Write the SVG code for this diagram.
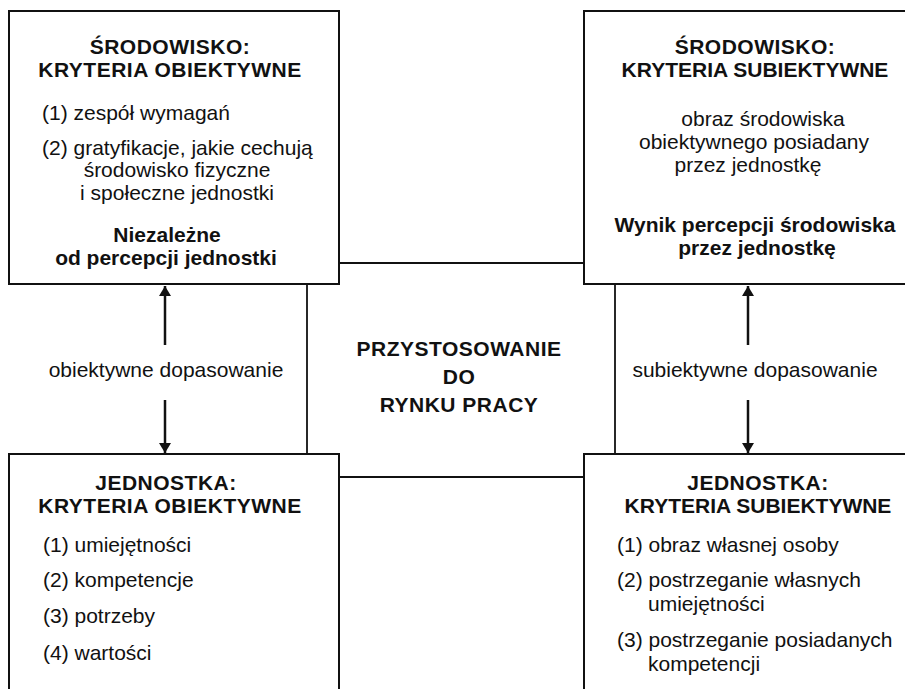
<svg xmlns="http://www.w3.org/2000/svg" width="905" height="689" viewBox="0 0 905 689">
  <defs>
    <style>
      .box { fill: #fff; stroke: #111; stroke-width: 2; }
      .link { fill: none; stroke: #111; stroke-width: 1.8; }
      .arrow { fill: none; stroke: #111; stroke-width: 2.5; }
      text { font-family: "Liberation Sans", Arial, Helvetica, sans-serif; font-size: 21px; fill: #111; }
      .b { font-weight: bold; }
      .caps { letter-spacing: 0.5px; }
      .c { text-anchor: middle; }
    </style>
    <marker id="head" viewBox="0 0 10 16" refX="10" refY="8" markerWidth="10" markerHeight="16" markerUnits="userSpaceOnUse" orient="auto">
      <path d="M0,2 L10,8 L0,14 Z" fill="#111"/>
    </marker>
  </defs>
  <rect width="905" height="689" fill="#fff"/>

  <!-- connectors between the four boxes -->
  <g id="connectors">
    <line class="link" x1="339" y1="263" x2="584" y2="263"/>
    <line class="link" x1="339" y1="477" x2="584" y2="477"/>
    <line class="link" x1="307" y1="284" x2="307" y2="454"/>
    <line class="link" x1="615" y1="284" x2="615" y2="454"/>
    <line class="arrow" x1="165" y1="345" x2="165" y2="286" marker-end="url(#head)"/>
    <line class="arrow" x1="165" y1="400" x2="165" y2="453" marker-end="url(#head)"/>
    <line class="arrow" x1="748" y1="345" x2="748" y2="286" marker-end="url(#head)"/>
    <line class="arrow" x1="748" y1="400" x2="748" y2="453" marker-end="url(#head)"/>
    <text class="c" x="166" y="377">obiektywne dopasowanie</text>
    <text class="c" x="755" y="377">subiektywne dopasowanie</text>
  </g>

  <!-- top left: environment, objective criteria -->
  <g id="env-objective">
    <rect class="box" x="9" y="11" width="330" height="273"/>
    <text class="b c caps" x="170" y="54">ŚRODOWISKO:</text>
    <text class="b c caps" x="170" y="77">KRYTERIA OBIEKTYWNE</text>
    <text x="42" y="120">(1) zespół wymagań</text>
    <text x="42" y="155">(2) gratyfikacje, jakie cechują</text>
    <text class="c" x="177" y="177">środowisko fizyczne</text>
    <text class="c" x="177" y="200">i społeczne jednostki</text>
    <text class="b c" x="167" y="242">Niezależne</text>
    <text class="b c" x="166" y="265">od percepcji jednostki</text>
  </g>

  <!-- top right: environment, subjective criteria -->
  <g id="env-subjective">
    <rect class="box" x="584" y="11" width="340" height="273"/>
    <text class="b c caps" x="755" y="54">ŚRODOWISKO:</text>
    <text class="b c" x="755" y="77">KRYTERIA SUBIEKTYWNE</text>
    <text class="c" x="763" y="126">obraz środowiska</text>
    <text class="c" x="754" y="149">obiektywnego posiadany</text>
    <text class="c" x="748" y="172">przez jednostkę</text>
    <text class="b c" x="755" y="232">Wynik percepcji środowiska</text>
    <text class="b c" x="757" y="255">przez jednostkę</text>
  </g>

  <!-- centre label -->
  <g id="adjustment">
    <text class="b c caps" x="459" y="356">PRZYSTOSOWANIE</text>
    <text class="b c caps" x="459" y="384">DO</text>
    <text class="b c caps" x="459" y="412">RYNKU PRACY</text>
  </g>

  <!-- bottom left: individual, objective criteria -->
  <g id="person-objective">
    <rect class="box" x="9" y="454" width="330" height="250"/>
    <text class="b c caps" x="166" y="490">JEDNOSTKA:</text>
    <text class="b c caps" x="170" y="513">KRYTERIA OBIEKTYWNE</text>
    <text x="43" y="552">(1) umiejętności</text>
    <text x="43" y="587">(2) kompetencje</text>
    <text x="43" y="623">(3) potrzeby</text>
    <text x="43" y="660">(4) wartości</text>
  </g>

  <!-- bottom right: individual, subjective criteria -->
  <g id="person-subjective">
    <rect class="box" x="584" y="454" width="340" height="250"/>
    <text class="b c caps" x="758" y="490">JEDNOSTKA:</text>
    <text class="b c" x="758" y="513">KRYTERIA SUBIEKTYWNE</text>
    <text x="617" y="552">(1) obraz własnej osoby</text>
    <text x="617" y="587">(2) postrzeganie własnych</text>
    <text x="648" y="611">umiejętności</text>
    <text x="617" y="647">(3) postrzeganie posiadanych</text>
    <text x="648" y="671">kompetencji</text>
  </g>
</svg>
